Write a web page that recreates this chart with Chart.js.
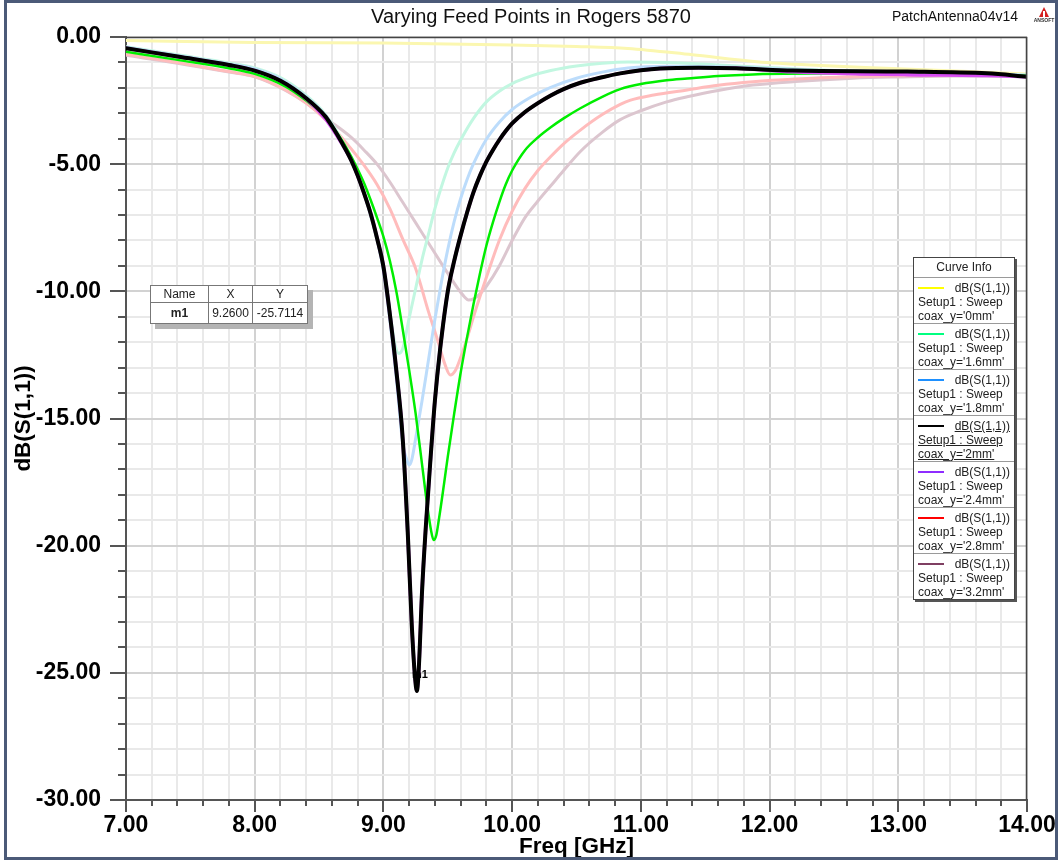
<!DOCTYPE html>
<html>
<head>
<meta charset="utf-8">
<title>Varying Feed Points in Rogers 5870</title>
<script src="https://cdn.jsdelivr.net/npm/chart.js@4.4.1/dist/chart.umd.min.js"></script>
<style>
  html, body { margin: 0; padding: 0; background: #fff; }
  #wrap { position: relative; width: 1061px; height: 864px; overflow: hidden;
          font-family: "Liberation Sans", Arial, sans-serif; }
  #plot { position: absolute; left: 0; top: 0; }
  .curve-info { position: absolute; left: 913px; top: 257px; width: 100px;
                border: 1px solid #444; background: #fff; box-shadow: 2px 2px 0 #555;
                color: #222; font-size: 12px; }
  .ci-head { height: 19px; line-height: 19px; text-align: center; }
  .ci-entry { height: 46px; border-top: 1px solid #9a9a9a; box-sizing: border-box;
              padding: 3px 4px 0 4px; line-height: 14px; white-space: nowrap; }
  .ci-row1 { display: flex; justify-content: space-between; align-items: center; }
  .ci-swatch { display: inline-block; width: 26px; height: 2px; }
  .ci-sel span.txt, .ci-sel div.txt { text-decoration: underline; }
  table.marker { position: absolute; left: 150px; top: 285px; border-collapse: collapse;
                 background: #fff; border: 1px solid #444; box-shadow: 5px 5px 0 #b4b4b4;
                 font-size: 12px; color: #222; }
  table.marker th, table.marker td { border: 1px solid #777; text-align: center; padding: 0; }
  table.marker th { font-weight: normal; height: 16px; }
  table.marker td { height: 20px; }
  table.marker td.name { font-weight: bold; }
</style>
</head>
<body>
<div id="wrap">
  <canvas id="plot" width="1061" height="864"></canvas>
  <table class="marker" id="markerTable">
    <tr><th style="width:57px">Name</th><th style="width:43px">X</th><th style="width:54px">Y</th></tr>
    <tr><td class="name" id="mName"></td><td id="mX"></td><td id="mY"></td></tr>
  </table>
  <div class="curve-info" id="curveInfo"><div class="ci-head">Curve Info</div></div>
</div>
<script>
// ---- text ----
const chartTitle = 'Varying Feed Points in Rogers 5870';
const projectName = 'PatchAntenna04v14';
const xAxisTitle = 'Freq [GHz]';
const yAxisTitle = 'dB(S(1,1))';
const traceExpr = 'dB(S(1,1))';
const setupLabel = 'Setup1 : Sweep';
const sweepLabels = ["coax_y='0mm'", "coax_y='1.6mm'", "coax_y='1.8mm'", "coax_y='2mm'",
                     "coax_y='2.4mm'", "coax_y='2.8mm'", "coax_y='3.2mm'"];

// ---- tick labels ----
const xMajorTicks = [7, 8, 9, 10, 11, 12, 13, 14];
const yMajorTicks = [0, -5, -10, -15, -20, -25, -30];

// ---- marker m1 ----
const markerName = 'm1';
const markerFreq = 9.26;
const markerDb = -25.7114;

// ---- return loss traces: frequency (GHz) / dB(S11) ----
const freq0mm = [7.0, 8.0, 9.0, 10.0, 10.5, 10.9, 11.4, 11.9, 12.4, 12.9, 13.5, 14.0];
const db0mm   = [-0.14, -0.22, -0.24, -0.31, -0.37, -0.45, -0.70, -0.97, -1.12, -1.23, -1.35, -1.45];

const freq16mm = [7.0, 7.4, 7.8, 8.0, 8.2, 8.4, 8.55, 8.68, 8.8, 8.92, 9.0, 9.05, 9.09, 9.12, 9.15,
                  9.2, 9.25, 9.3, 9.35, 9.4, 9.45, 9.5, 9.55, 9.6, 9.7, 9.8, 9.9, 10.0, 10.15, 10.3,
                  10.5, 10.7, 10.9, 11.2, 11.6, 12.4, 13.2, 14.0];
const db16mm   = [-0.38, -0.70, -1.02, -1.22, -1.60, -2.30, -3.05, -4.10, -5.40, -7.40, -9.10, -10.80, -12.10, -12.44, -12.25,
                  -11.05, -9.90, -8.75, -7.75, -6.75, -5.90, -5.15, -4.55, -4.05, -3.20, -2.55, -2.13, -1.83, -1.53, -1.32,
                  -1.14, -1.03, -0.98, -1.00, -1.10, -1.30, -1.40, -1.49];

const freq18mm = [7.0, 7.4, 7.8, 8.0, 8.2, 8.4, 8.55, 8.68, 8.8, 8.9, 9.0, 9.1, 9.15, 9.18, 9.2, 9.22,
                  9.25, 9.3, 9.35, 9.4, 9.45, 9.5, 9.55, 9.6, 9.65, 9.7, 9.8, 9.9, 10.0, 10.15, 10.3,
                  10.5, 10.7, 10.9, 11.2, 11.6, 12.4, 13.2, 14.0];
const db18mm   = [-0.40, -0.73, -1.06, -1.26, -1.65, -2.36, -3.10, -4.15, -5.45, -6.95, -9.20, -13.40, -16.00, -16.60, -16.83, -16.63,
                  -15.80, -14.30, -12.70, -11.10, -9.65, -8.35, -7.25, -6.35, -5.60, -4.98, -4.02, -3.35, -2.85, -2.35, -1.98,
                  -1.62, -1.38, -1.22, -1.15, -1.17, -1.32, -1.40, -1.50];

const freq2mm = [7.0, 7.4, 7.8, 8.0, 8.2, 8.4, 8.55, 8.6, 8.68, 8.75, 8.8, 8.85, 8.9, 8.95, 9.0, 9.05, 9.1, 9.15,
                 9.19, 9.22, 9.245, markerFreq, 9.275, 9.3, 9.33, 9.36, 9.4, 9.44, 9.5, 9.55, 9.6, 9.65, 9.7,
                 9.75, 9.8, 9.85, 9.9, 9.95, 10.0, 10.1, 10.2, 10.3, 10.4, 10.53, 10.7, 10.84, 11.0, 11.15,
                 11.45, 11.74, 12.18, 13.07, 13.69, 14.0];
const db2mm   = [-0.44, -0.77, -1.10, -1.32, -1.72, -2.41, -3.13, -3.50, -4.18, -4.85, -5.45, -6.15, -6.93, -7.90, -9.03, -10.90, -13.10, -15.80,
                 -19.60, -23.10, -25.15, markerDb, -24.80, -21.80, -19.20, -17.00, -14.30, -12.30, -10.00, -8.80, -7.80, -6.90, -6.10,
                 -5.45, -4.90, -4.45, -4.05, -3.70, -3.40, -2.95, -2.60, -2.30, -2.05, -1.80, -1.58, -1.43, -1.31, -1.24,
                 -1.21, -1.23, -1.32, -1.36, -1.43, -1.56];

const freq24mm = [7.0, 7.4, 7.8, 8.0, 8.2, 8.4, 8.55, 8.6, 8.68, 8.75, 8.8, 8.85, 8.9, 8.95, 9.0, 9.05, 9.1, 9.15,
                  9.19, 9.22, 9.245, 9.26, 9.275, 9.3, 9.33, 9.36, 9.4, 9.44, 9.5, 9.55, 9.6, 9.65, 9.7,
                  9.75, 9.8, 9.85, 9.9, 9.95, 10.0, 10.1, 10.2, 10.3, 10.4, 10.53, 10.7, 10.84, 11.0, 11.15,
                  11.45, 11.74, 12.18, 12.7, 13.07, 13.69, 14.0];
const db24mm   = [-0.44, -0.77, -1.10, -1.32, -1.72, -2.43, -3.22, -3.58, -4.22, -4.85, -5.45, -6.15, -6.93, -7.90, -9.03, -10.90, -13.10, -15.80,
                  -19.60, -23.10, -25.15, -25.70, -24.80, -21.80, -19.20, -17.00, -14.30, -12.30, -10.00, -8.80, -7.80, -6.90, -6.10,
                  -5.45, -4.90, -4.45, -4.05, -3.70, -3.40, -2.95, -2.60, -2.30, -2.05, -1.80, -1.58, -1.43, -1.31, -1.24,
                  -1.21, -1.23, -1.37, -1.45, -1.48, -1.51, -1.56];

const freqPeak = [7.0, 7.4, 7.8, 8.0, 8.24, 8.4, 8.55, 8.6, 8.65, 8.7, 8.75, 8.8, 8.85, 8.9, 8.95, 9.0, 9.05, 9.1, 9.15,
                  9.2, 9.25, 9.3, 9.34, 9.37, 9.39, 9.41, 9.43, 9.47, 9.5, 9.55, 9.6, 9.65, 9.7, 9.75, 9.8, 9.85, 9.9,
                  9.95, 10.0, 10.1, 10.2, 10.3, 10.4, 10.53, 10.7, 10.84, 11.0, 11.2, 11.36, 11.6, 11.87, 12.65, 13.43, 14.0];
const dbPeak   = [-0.58, -0.90, -1.23, -1.45, -1.95, -2.50, -3.15, -3.48, -3.85, -4.25, -4.70, -5.20, -5.75, -6.40, -7.10, -7.85, -8.80, -10.00, -11.50,
                  -13.10, -14.80, -16.80, -18.40, -19.40, -19.78, -19.60, -19.00, -17.60, -16.50, -14.80, -13.20, -11.80, -10.50, -9.30, -8.20, -7.30, -6.50,
                  -5.80, -5.25, -4.45, -3.95, -3.55, -3.20, -2.80, -2.35, -2.05, -1.85, -1.70, -1.63, -1.53, -1.47, -1.43, -1.46, -1.52];

const freq28mm = [7.0, 7.4, 7.8, 8.0, 8.24, 8.4, 8.55, 8.65, 8.75, 8.85, 8.95, 9.05, 9.15, 9.25, 9.35, 9.42, 9.48, 9.52,
                  9.56, 9.6, 9.65, 9.7, 9.8, 9.9, 10.0, 10.1, 10.2, 10.3, 10.4, 10.53, 10.7, 10.84, 10.92, 11.1, 11.36,
                  11.6, 11.87, 12.2, 12.65, 13.0, 13.43, 14.0];
const db28mm   = [-0.68, -1.00, -1.36, -1.55, -2.08, -2.60, -3.25, -3.80, -4.40, -5.05, -5.80, -6.75, -7.95, -9.10, -10.80, -11.90, -12.90, -13.29,
                  -13.10, -12.60, -11.85, -11.00, -9.45, -8.00, -6.85, -5.95, -5.25, -4.70, -4.20, -3.66, -3.05, -2.65, -2.48, -2.28, -2.08,
                  -1.90, -1.76, -1.65, -1.56, -1.52, -1.50, -1.52];

const freq32mm = [7.0, 7.4, 7.8, 8.0, 8.24, 8.4, 8.55, 8.65, 8.75, 8.85, 8.95, 9.05, 9.15, 9.25, 9.35, 9.45, 9.52, 9.58, 9.63,
                  9.66, 9.7, 9.75, 9.8, 9.9, 10.0, 10.1, 10.2, 10.3, 10.4, 10.53, 10.7, 10.84, 11.0, 11.2, 11.36, 11.6,
                  11.87, 12.2, 12.65, 13.0, 13.43, 14.0];
const db32mm   = [-0.72, -1.03, -1.38, -1.57, -2.10, -2.60, -3.20, -3.55, -3.95, -4.45, -5.00, -5.70, -6.50, -7.30, -8.10, -8.90, -9.45, -9.90, -10.22,
                  -10.34, -10.30, -10.10, -9.80, -9.00, -8.00, -7.10, -6.45, -5.85, -5.25, -4.50, -3.75, -3.25, -2.90, -2.55, -2.35, -2.10,
                  -1.89, -1.75, -1.62, -1.57, -1.53, -1.55];

// ---- styling ----
const FONT = '"Liberation Sans", Arial, sans-serif';
const legendColors = ['#ffff00', '#00ff80', '#1e90ff', '#000000', '#8f2cff', '#ff0000', '#7f3f62'];
const selectedIndex = 3;

const pts = (f, d) => f.map((x, i) => ({ x, y: d[i] }));
const isMajorX = v => xMajorTicks.some(t => Math.abs(t - v) < 1e-6);
const isMajorY = v => yMajorTicks.some(t => Math.abs(t - v) < 1e-6);

function trace(label, f, d, color, width, order) {
  return {
    label, data: pts(f, d), borderColor: color, backgroundColor: color,
    borderWidth: width, pointRadius: 0, fill: false, order,
    cubicInterpolationMode: 'monotone', borderJoinStyle: 'round', borderCapStyle: 'round'
  };
}

const datasets = [
  trace(sweepLabels[3], freq2mm, db2mm, '#000000', 4, 0),
  trace(sweepLabels[4], freq24mm, db24mm, '#d64cf2', 3.5, 1),
  trace(sweepLabels[4] + ' ', freqPeak, dbPeak, '#00ee00', 2.5, 2),
  trace(sweepLabels[2], freq18mm, db18mm, '#bcdcfb', 3, 3),
  trace(sweepLabels[1], freq16mm, db16mm, '#c2f7e1', 3, 4),
  trace(sweepLabels[5], freq28mm, db28mm, '#ffbcbc', 3, 5),
  trace(sweepLabels[6], freq32mm, db32mm, '#dcc6cf', 3, 6),
  trace(sweepLabels[0], freq0mm, db0mm, '#fbf7b0', 3, 7)
];

// page frame, plot box, minor ticks and header text
const decorations = {
  id: 'decorations',
  beforeDraw(chart) {
    const { ctx, width, height } = chart;
    ctx.save();
    ctx.fillStyle = '#ffffff';
    ctx.fillRect(0, 0, width, height);
    ctx.restore();
  },
  beforeDatasetsDraw(chart) {
    const { ctx, scales: { x, y } } = chart;
    const px = x.getPixelForValue(markerFreq);
    const py = y.getPixelForValue(markerDb);
    ctx.save();
    ctx.fillStyle = '#000';
    ctx.font = 'bold 11px ' + FONT;
    ctx.textAlign = 'center';
    ctx.textBaseline = 'middle';
    ctx.fillText(markerName, px + 3, py - 16);
    ctx.restore();
  },
  afterDraw(chart) {
    const { ctx, chartArea: a, scales: { x, y } } = chart;
    ctx.save();
    // plot box
    ctx.strokeStyle = '#444';
    ctx.lineWidth = 1.5;
    ctx.beginPath();
    ctx.moveTo(a.left, a.top + 0.5);
    ctx.lineTo(a.right - 0.5, a.top + 0.5);
    ctx.lineTo(a.right - 0.5, a.bottom);
    ctx.stroke();
    // minor ticks
    ctx.strokeStyle = '#555';
    ctx.lineWidth = 2;
    ctx.beginPath();
    x.ticks.forEach(t => {
      if (!isMajorX(t.value)) {
        const px = Math.round(x.getPixelForValue(t.value));
        ctx.moveTo(px, a.bottom); ctx.lineTo(px, a.bottom + 6);
      }
    });
    y.ticks.forEach(t => {
      if (!isMajorY(t.value)) {
        const py = Math.round(y.getPixelForValue(t.value));
        ctx.moveTo(a.left - 8, py); ctx.lineTo(a.left, py);
      }
    });
    ctx.stroke();
    // titles
    ctx.fillStyle = '#111';
    ctx.textBaseline = 'middle';
    ctx.font = '20px ' + FONT;
    ctx.textAlign = 'center';
    ctx.fillText(chartTitle, 531, 17);
    ctx.font = '14px ' + FONT;
    ctx.textAlign = 'right';
    ctx.fillText(projectName, 1018, 17);
    // vendor badge
    ctx.fillStyle = '#d42020';
    ctx.beginPath();
    ctx.moveTo(1044, 7); ctx.lineTo(1049, 17); ctx.lineTo(1039, 17); ctx.closePath();
    ctx.fill();
    ctx.fillStyle = '#fff';
    ctx.fillRect(1043, 11, 2, 6);
    ctx.fillStyle = '#333';
    ctx.font = 'bold 5px ' + FONT;
    ctx.textAlign = 'center';
    ctx.fillText('ANSOFT', 1044, 21);
    // page frame
    ctx.strokeStyle = '#4b5a78';
    ctx.lineWidth = 3;
    ctx.strokeRect(5.5, 1.5, 1051, 857);
    ctx.restore();
  }
};

const tickFont = { family: FONT, size: 23, weight: 'bold' };
const axisTitleFont = { family: FONT, size: 22.5, weight: 'bold' };

new Chart(document.getElementById('plot'), {
  type: 'line',
  data: { datasets },
  options: {
    responsive: false,
    devicePixelRatio: 1,
    animation: false,
    events: [],
    layout: { padding: { left: 0, right: 34, top: 37, bottom: 0 } },
    plugins: { legend: { display: false }, tooltip: { enabled: false }, title: { display: false } },
    scales: {
      x: {
        type: 'linear', min: 7, max: 14,
        afterFit: s => { s.height = 64; },
        border: { display: true, color: '#555', width: 2 },
        grid: {
          color: c => isMajorX(c.tick.value) ? '#d2d2d2' : '#e9e9e9',
          lineWidth: 2,
          drawTicks: true, tickLength: 12, tickWidth: 2,
          tickColor: c => isMajorX(c.tick.value) ? '#555' : 'rgba(0,0,0,0)'
        },
        ticks: {
          stepSize: 0.2, autoSkip: false, maxRotation: 0, minRotation: 0, padding: 0,
          maxTicksLimit: 100,
          font: tickFont, color: '#000',
          callback: v => isMajorX(v) ? Number(v).toFixed(2) : ''
        },
        title: { display: true, text: xAxisTitle, color: '#000', font: axisTitleFont, padding: { top: 0, bottom: 3.5 } }
      },
      y: {
        type: 'linear', min: -30, max: 0,
        afterFit: s => { s.width = 126; },
        border: { display: true, color: '#555', width: 2 },
        grid: {
          color: c => isMajorY(c.tick.value) ? '#d2d2d2' : '#e9e9e9',
          lineWidth: 2,
          drawTicks: true, tickLength: 16, tickWidth: 2,
          tickColor: c => isMajorY(c.tick.value) ? '#555' : 'rgba(0,0,0,0)'
        },
        ticks: {
          stepSize: 1, autoSkip: false, padding: 9, maxTicksLimit: 100,
          font: tickFont, color: '#000',
          callback: v => isMajorY(v) ? (v < 0 ? '-' : '') + Math.abs(v).toFixed(2) : ''
        },
        title: { display: true, text: yAxisTitle, color: '#000', font: axisTitleFont, padding: { top: 10.5, bottom: 0 } }
      }
    }
  },
  plugins: [decorations]
});

// marker table
document.getElementById('mName').textContent = markerName;
document.getElementById('mX').textContent = markerFreq.toFixed(4);
document.getElementById('mY').textContent = markerDb.toFixed(4);

// curve info box
const info = document.getElementById('curveInfo');
sweepLabels.forEach((lab, i) => {
  const e = document.createElement('div');
  e.className = 'ci-entry' + (i === selectedIndex ? ' ci-sel' : '');
  const r1 = document.createElement('div');
  r1.className = 'ci-row1';
  const sw = document.createElement('span');
  sw.className = 'ci-swatch';
  sw.style.background = legendColors[i];
  const ex = document.createElement('span');
  ex.className = 'txt';
  ex.textContent = traceExpr;
  r1.appendChild(sw); r1.appendChild(ex);
  const r2 = document.createElement('div');
  r2.className = 'txt'; r2.textContent = setupLabel;
  const r3 = document.createElement('div');
  r3.className = 'txt'; r3.textContent = lab;
  e.appendChild(r1); e.appendChild(r2); e.appendChild(r3);
  info.appendChild(e);
});
</script>
</body>
</html>
